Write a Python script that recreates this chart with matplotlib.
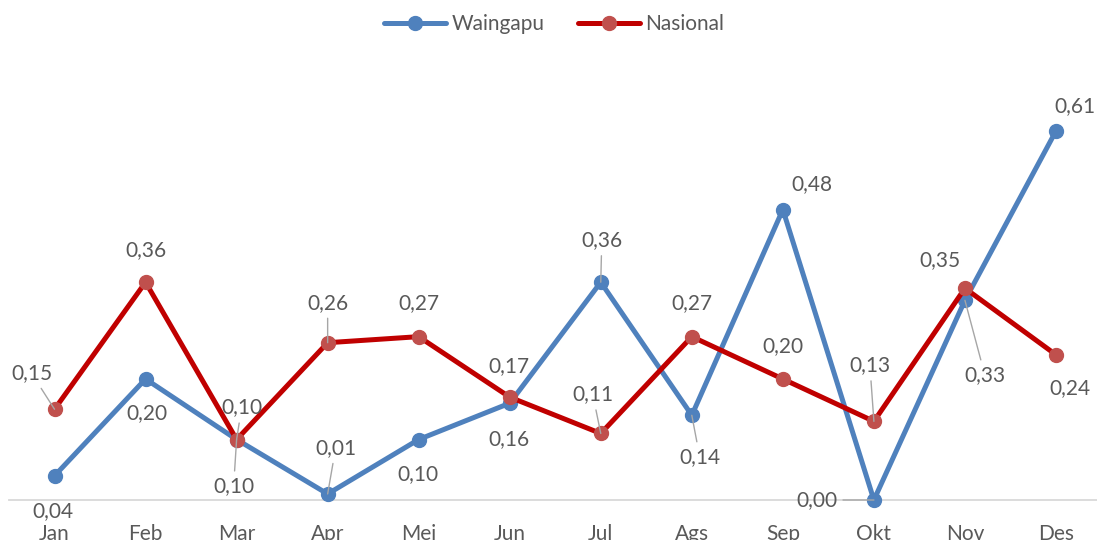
import matplotlib.pyplot as plt

plt.rcParams['font.family'] = ['Lato', 'DejaVu Sans']

bulan = ["Jan", "Feb", "Mar", "Apr", "Mei", "Jun", "Jul", "Ags", "Sep", "Okt", "Nov", "Des"]
waingapu = [0.04, 0.20, 0.10, 0.01, 0.10, 0.16, 0.36, 0.14, 0.48, 0.00, 0.33, 0.61]
nasional = [0.15, 0.36, 0.10, 0.26, 0.27, 0.17, 0.11, 0.27, 0.20, 0.13, 0.35, 0.24]

# label offsets in pixels (dx, dy, leader line?)
off_w = [(-2, -35, False), (1, -34, False), (-3, -47, True), (8, 46, True),
         (-1, -35, False), (-1, -36, False), (1, 42, True), (8, -42, True),
         (29, 26, False), (-57, 0, True), (20, -75, True), (19, 25, False)]
off_n = [(-23, 36, True), (0, 32, False), (5, 32, True), (0, 40, True),
         (0, 34, False), (-1, 31, False), (-8, 39, True), (0, 34, False),
         (0, 33, False), (-4, 56, True), (-25, 28, False), (14, -33, False)]

blue = "#4F81BD"
red = "#C00000"
red_m = "#C0504D"
txt = "#595959"
fs = 15

fig = plt.figure(figsize=(10.97, 5.4), dpi=100)
ymax = 0.7
ax = fig.add_axes([9/1097, 40/540, 1092.5/1097, ymax*605/540])

x = list(range(len(bulan)))
ax.plot(x, waingapu, color=blue, lw=3.6, marker='o', ms=10, mfc=blue, mec=blue,
        label="Waingapu", zorder=3, solid_capstyle='round', clip_on=False)
ax.plot(x, nasional, color=red, lw=3.6, marker='o', ms=10, mfc=red_m, mec=red_m,
        label="Nasional", zorder=4, solid_capstyle='round', clip_on=False)

def lab(vals, offs):
    for i, v in enumerate(vals):
        dx, dy, lead = offs[i]
        ap = None
        if lead:
            ap = dict(arrowstyle='-', color='#A6A6A6', lw=1, shrinkA=2, shrinkB=0)
        ax.annotate(f"{v:.2f}".replace(".", ","), (i, v), xytext=(dx, dy),
                    textcoords='offset pixels', ha='center', va='center',
                    fontsize=fs, color=txt, arrowprops=ap, zorder=6)

lab(waingapu, off_w)
lab(nasional, off_n)

ax.set_xlim(-0.5, 11.5)
ax.set_ylim(0, ymax)
ax.set_xticks(x)
ax.set_xticklabels(bulan, fontsize=fs, color=txt)
ax.tick_params(axis='x', length=0, pad=17)
ax.set_yticks([])
for s in ['top', 'right', 'left']:
    ax.spines[s].set_visible(False)
ax.spines['bottom'].set_color('#D9D9D9')
ax.spines['bottom'].set_linewidth(1.3)

leg = fig.legend(loc='center', bbox_to_anchor=(0.505, 1 - 24/540), ncol=2, frameon=False,
                 fontsize=fs, handlelength=3.0, columnspacing=1.6, handletextpad=0.25)
for t in leg.get_texts():
    t.set_color(txt)

fig.savefig("out.png", dpi=100)
